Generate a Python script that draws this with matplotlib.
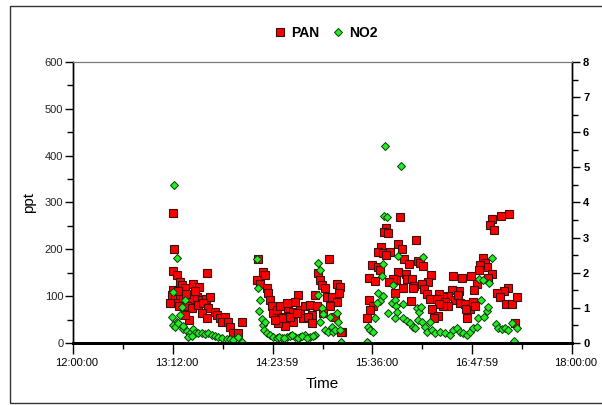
import matplotlib
matplotlib.use("Agg")
import matplotlib.pyplot as plt
import matplotlib.transforms as mtransforms
from matplotlib.lines import Line2D
from matplotlib.patches import Rectangle
from matplotlib.ticker import MultipleLocator

plt.rcParams['font.family'] = ['Liberation Sans', 'DejaVu Sans']

# time in minutes after 12:00:00
tick_pos = [0, 72, 144, 216, 288, 360]
tick_labels = ['12:00:00', '13:12:00', '14:23:59', '15:36:00', '16:47:59', '18:00:00']

# PAN (ppt, left axis)
pan_t = [
    # first run ~13:10 - 14:02
    72.0, 73.0, 72.4, 74.8, 77.2, 78.4, 80.8, 71.9, 86.8, 91.1, 96.4, 71.2, 73.6, 77.2,
    79.6, 84.4, 89.2, 92.8, 96.0, 98.8, 73.6, 76.7, 82.0, 85.6, 90.4, 94.0, 97.6, 83.9,
    92.8, 96.4, 102.4, 103.7, 106.0, 109.7, 107.3, 112.0, 113.3, 121.7, 115.6, 119.2,
    80.8, 70.0, 75.5, 81.5, 88.0,
    # second run ~14:12 - 15:14
    133.7, 184.7, 137.3, 132.5, 138.5, 134.9, 139.7, 140.9, 142.1, 143.3, 144.5, 146.9,
    149.3, 151.7, 155.3, 158.9, 162.5, 163.8, 167.4, 171.0, 174.6, 175.8, 177.0, 178.2,
    179.4, 181.8, 183.0, 186.6, 190.2, 192.6, 192.1, 190.2, 185.4, 180.6, 172.2, 166.1,
    158.9, 152.9, 148.1, 150.6, 145.7, 156.5, 161.4, 169.7, 172.6, 193.8, 189.0, 160.2,
    154.2, 193.5,
    # third run ~15:32 - 17:21
    314.8, 308.5, 235.9, 302.5, 300.8, 303.7, 225.6, 224.6, 227.0, 247.4, 234.7, 237.1,
    222.0, 220.2, 223.8, 228.7, 225.8, 238.8, 249.1, 250.3, 252.7, 242.4, 215.5, 220.2,
    221.5, 296.0, 297.2, 298.5, 293.6, 293.1, 234.2, 232.8, 240.2, 241.2, 244.8, 246.2,
    258.0, 256.3, 251.6, 253.4, 255.2, 257.5, 273.9, 280.4, 287.1, 302.0, 299.7, 291.2,
    289.5, 278.7, 273.2, 270.7, 266.7, 264.3, 262.4, 268.4, 275.6, 278.0, 279.2, 282.8,
    286.4, 283.5, 288.8, 290.0, 284.4, 270.7, 267.1, 264.3, 258.8, 263.5, 260.5, 243.6,
    237.8, 245.5, 230.6, 228.2, 232.3, 213.5, 217.9, 213.8, 216.6, 214.3, 212.3, 314.0,
    311.0, 305.7, 308.1, 312.4, 316.5, 320.5, 318.9,
]
pan_ppt = [
    277, 200, 154, 145, 131, 124, 117, 113, 127, 119, 150, 102, 99, 102,
    95, 93, 99, 92, 93, 99, 85, 78, 78, 74, 81, 85, 74, 49,
    65, 53, 67, 60, 53, 56, 45, 45, 35, 45, 21, 21,
    60, 85, 110, 105, 110,
    179, 179, 152, 134, 145, 127, 117, 106, 92, 78, 63, 70,
    79, 56, 74, 67, 102, 70, 78, 81, 102, 78, 149, 134,
    124, 117, 99, 99, 127, 120, 106, 88, 78, 63, 60, 53,
    45, 36, 42, 53, 49, 56, 63, 56, 42, 24, 56, 88,
    85, 24,
    275, 271, 268, 265, 253, 241, 246, 238, 234, 220, 211, 201,
    204, 194, 192, 195, 188, 179, 175, 170, 164, 168, 166, 163,
    156, 182, 170, 163, 166, 156, 152, 134, 147, 136, 136, 122,
    145, 131, 127, 115, 105, 93, 143, 138, 143, 147, 138, 125,
    113, 112, 113, 100, 99, 105, 93, 88, 92, 102, 85, 83,
    72, 72, 88, 80, 54, 78, 78, 83, 72, 58, 54, 90,
    117, 117, 136, 131, 106, 138, 133, 92, 78, 70, 53, 117,
    110, 106, 99, 83, 83, 99, 42,
]

# NO2 (right axis)
no2_t = [
    # first run
    73.0, 74.8, 72.4, 80.8, 78.4, 71.2, 77.2, 74.8, 72.4, 73.6, 76.0, 79.6, 82.0, 84.4,
    86.8, 88.0, 90.4, 92.8, 95.2, 97.6, 100.0, 102.4, 104.8, 107.3, 110.9, 113.3, 115.6,
    119.2, 121.7, 83.2, 85.6, 79.6,
    # second run
    132.5, 176.5, 178.2, 133.7, 134.9, 134.4, 136.1, 136.8, 138.5, 137.8, 139.7, 142.1,
    144.5, 146.9, 150.6, 154.2, 156.5, 160.2, 163.8, 167.4, 171.0, 174.6, 177.0, 179.4,
    178.2, 180.6, 181.8, 184.2, 186.6, 187.8, 189.0, 190.2, 191.4, 192.6, 193.1, 185.4,
    148.5, 152.5, 158.0, 162.0, 165.5, 169.0, 173.0, 212.6,
    # third run
    225.1, 236.6, 224.6, 226.7, 234.7, 252.3, 302.0, 223.4, 223.1, 231.1, 220.2, 223.8,
    221.5, 219.1, 229.9, 232.3, 233.0, 234.0, 227.5, 238.3, 248.0, 249.8, 251.1, 217.9,
    213.0, 214.3, 216.6, 232.3, 238.3, 240.7, 243.1, 245.5, 249.1, 251.6, 246.7, 253.9,
    255.2, 257.5, 258.8, 261.1, 264.7, 268.4, 272.0, 274.4, 276.8, 279.2, 281.6, 284.0,
    286.4, 288.8, 291.2, 292.4, 294.1, 296.5, 298.5, 299.2, 293.1, 295.5, 300.3, 305.1,
    306.8, 309.3, 311.6, 314.0, 316.5, 320.1, 318.1, 211.9,
]
no2_val = [
    4.50, 2.41, 1.46, 1.22, 1.03, 0.75, 0.80, 0.61, 0.51, 0.45, 0.56, 0.39, 0.35, 0.28,
    0.39, 0.29, 0.28, 0.29, 0.26, 0.28, 0.23, 0.20, 0.16, 0.13, 0.10, 0.10, 0.09,
    0.18, 0.04, 0.16, 0.20, 0.48,
    2.39, 2.29, 2.08, 1.57, 1.22, 0.92, 0.67, 0.51, 0.61, 0.37, 0.29, 0.23,
    0.18, 0.13, 0.13, 0.18, 0.20, 0.16, 0.18, 0.23, 0.18, 0.23, 1.37, 0.99,
    0.61, 0.83, 0.37, 0.32, 0.46, 0.32, 0.37, 0.85, 0.61, 0.37, 0.04, 0.75,
    0.16, 0.15, 0.22, 0.14, 0.20, 0.15, 0.21, 0.01,
    5.61, 5.05, 3.62, 3.58, 2.49, 2.44, 2.41, 2.24, 1.91, 1.65, 1.41, 1.34,
    1.20, 1.13, 1.13, 1.22, 1.05, 0.89, 0.85, 1.11, 0.99, 0.89, 1.02, 0.70,
    0.46, 0.37, 0.32, 0.70, 0.70, 0.64, 0.56, 0.46, 0.65, 0.61, 0.42, 0.45,
    0.32, 0.61, 0.37, 0.28, 0.32, 0.28, 0.23, 0.37, 0.42, 0.32, 0.28, 0.23,
    0.32, 0.42, 0.46, 0.70, 1.22, 0.75, 0.92, 1.03, 1.82, 1.79, 1.70, 0.54,
    0.42, 0.39, 0.42, 0.37, 0.58, 0.42, 0.07, 0.04,
]

fig = plt.figure(figsize=(6.02, 4.05), dpi=100)
fig.patches.append(Rectangle((10 / 602, 2 / 405), 600 / 602, 397 / 405, transform=fig.transFigure,
                             fill=False, edgecolor='#333333', linewidth=1.0))

ax = fig.add_axes([73 / 602, 62 / 405, 499 / 602, 281 / 405])
ax2 = ax.twinx()

ax.plot(pan_t, pan_ppt, linestyle='none', marker='s', markersize=5.2,
        markerfacecolor='#ff0000', markeredgecolor='#3a1010', markeredgewidth=0.8)
ax2.plot(no2_t, no2_val, linestyle='none', marker='D', markersize=3.6,
         markerfacecolor='#22ee22', markeredgecolor='#0a3a0a', markeredgewidth=0.7)

ax.set_xlim(0, 360)
ax.set_ylim(0, 600)
ax2.set_ylim(0, 8)

ax.set_xticks(tick_pos)
ax.set_xticklabels(tick_labels)
ax.xaxis.set_minor_locator(MultipleLocator(36))
ax.yaxis.set_major_locator(MultipleLocator(100))
ax.yaxis.set_minor_locator(MultipleLocator(50))
ax2.yaxis.set_major_locator(MultipleLocator(1))
ax2.yaxis.set_minor_locator(MultipleLocator(0.5))

ax.tick_params(axis='x', which='major', direction='out', length=8, width=1, labelsize=8, pad=3)
ax.tick_params(axis='x', which='minor', direction='out', length=4, width=1)
ax.tick_params(axis='y', which='major', direction='out', length=6, width=1, labelsize=8, labelcolor='#222222', pad=1)
ax.tick_params(axis='y', which='minor', direction='out', length=4, width=1)
ax2.tick_params(axis='y', which='major', direction='out', length=6, width=1, labelsize=8, pad=2)
ax2.tick_params(axis='y', which='minor', direction='out', length=4, width=1)
for lab in ax2.get_yticklabels():
    lab.set_fontweight('bold')

offset = mtransforms.ScaledTranslation(4 / 100, 0, fig.dpi_scale_trans)
for lab in ax.get_xticklabels():
    lab.set_transform(lab.get_transform() + offset)

for a in (ax, ax2):
    a.spines['top'].set_color('#777777')
    a.spines['top'].set_linewidth(0.8)
    a.spines['left'].set_linewidth(1.0)
    a.spines['right'].set_linewidth(1.0)
    a.spines['bottom'].set_linewidth(2.0)

ax.set_xlabel('Time', fontsize=11, labelpad=6)
ax.set_ylabel('ppt', fontsize=11, labelpad=6)

handles = [
    Line2D([], [], linestyle='none', marker='s', markersize=5.5, markerfacecolor='#ff0000',
           markeredgecolor='#3a1010', markeredgewidth=0.8),
    Line2D([], [], linestyle='none', marker='D', markersize=3.6, markerfacecolor='#22ee22',
           markeredgecolor='#0a3a0a', markeredgewidth=0.7),
]
fig.legend(handles, ['PAN', 'NO2'], loc='center', bbox_to_anchor=(326 / 602, 1 - 33 / 405), ncol=2,
           frameon=False, prop={'weight': 'bold', 'size': 10}, handlelength=0.8,
           handletextpad=0.4, columnspacing=0.9)

fig.savefig('out.png', dpi=100)
